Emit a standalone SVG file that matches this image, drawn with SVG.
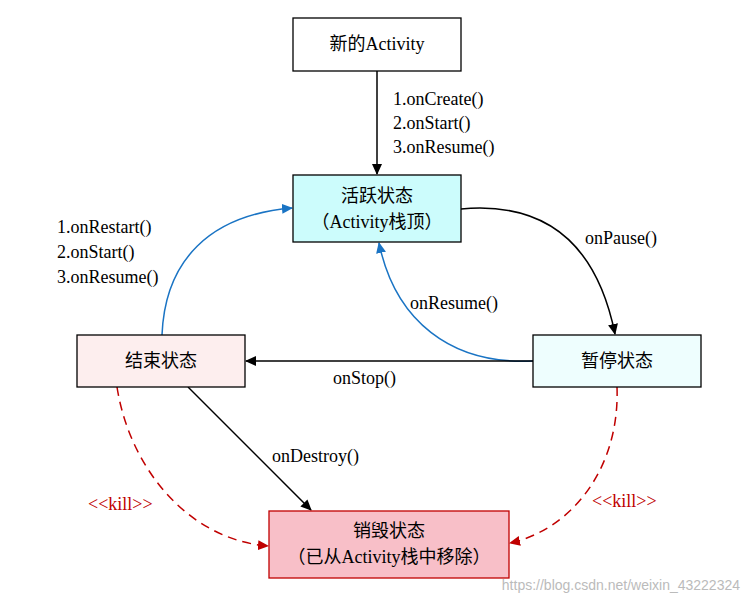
<svg xmlns="http://www.w3.org/2000/svg" width="753" height="604" viewBox="0 0 753 604">
<style>
text{font-family:"Liberation Serif","Noto Sans CJK SC",serif;font-size:18px;fill:#000}
.n{stroke:#000;stroke-width:1.3}
.c{fill:none;stroke-width:1.5}
.k{stroke:#000}
.b{stroke:#1a74c4}
.r{stroke:#c00000;stroke-dasharray:9,6}
.red{fill:#c00000}
</style>
<defs>
<marker id="ak" markerWidth="12" markerHeight="12" refX="10" refY="5" orient="auto" markerUnits="userSpaceOnUse"><path d="M0,0L11,5L0,10z" fill="#000"/></marker>
<marker id="ab" markerWidth="12" markerHeight="12" refX="10" refY="5" orient="auto" markerUnits="userSpaceOnUse"><path d="M0,0L11,5L0,10z" fill="#1a74c4"/></marker>
<marker id="ar" markerWidth="12" markerHeight="12" refX="10" refY="5" orient="auto" markerUnits="userSpaceOnUse"><path d="M0,0L11,5L0,10z" fill="#c00000"/></marker>
</defs>
<rect width="753" height="604" fill="#fff"/>
<g id="connectors">
<path class="c k" d="M377,71V174" marker-end="url(#ak)"/>
<path class="c k" d="M461,209C560,200 600,260 615,334" marker-end="url(#ak)"/>
<path class="c b" d="M533,361C450,365 395,320 379,243" marker-end="url(#ab)"/>
<path class="c k" d="M533,361H246" marker-end="url(#ak)"/>
<path class="c b" d="M162,335C165,260 210,215 292,208" marker-end="url(#ab)"/>
<path class="c k" d="M188,387L311,510" marker-end="url(#ak)"/>
<path class="c r" d="M117,387C130,470 190,540 268,546" marker-end="url(#ar)"/>
<path class="c r" d="M617,387C620,470 570,530 510,543" marker-end="url(#ar)"/>
<text x="393" y="105">1.onCreate()</text>
<text x="393" y="129">2.onStart()</text>
<text x="393" y="153">3.onResume()</text>
<text x="585" y="244">onPause()</text>
<text x="410" y="309">onResume()</text>
<text x="333" y="384">onStop()</text>
<text x="57" y="233">1.onRestart()</text>
<text x="57" y="258">2.onStart()</text>
<text x="57" y="283">3.onResume()</text>
<text x="272" y="462">onDestroy()</text>
<text x="88" y="510" class="red">&lt;&lt;kill&gt;&gt;</text>
<text x="592" y="507" class="red">&lt;&lt;kill&gt;&gt;</text>
</g>
<g id="n1"><rect class="n" x="293" y="18" width="168" height="53" fill="#fff"/><text x="377" y="50" text-anchor="middle">新的Activity</text></g>
<g id="n2"><rect class="n" x="293" y="175" width="168" height="67" fill="#ccfcfc"/><text x="377" y="202" text-anchor="middle">活跃状态</text><text x="377" y="228" text-anchor="middle">（Activity栈顶）</text></g>
<g id="n3"><rect class="n" x="77" y="335" width="168" height="52" fill="#fdeeee"/><text x="161" y="367" text-anchor="middle">结束状态</text></g>
<g id="n4"><rect class="n" x="533" y="335" width="168" height="52" fill="#eefefe"/><text x="617" y="367" text-anchor="middle">暂停状态</text></g>
<g id="n5"><rect x="269" y="511" width="240" height="67" fill="#f8bfc8" stroke="#c00000" stroke-width="1.3"/><text x="389" y="537" text-anchor="middle">销毁状态</text><text x="389" y="563" text-anchor="middle">（已从Activity栈中移除）</text></g>
<text x="740" y="590" text-anchor="end" style="font-family:'Liberation Sans',sans-serif;font-size:14px;fill:#bbb">https://blog.csdn.net/weixin_43222324</text>
</svg>
